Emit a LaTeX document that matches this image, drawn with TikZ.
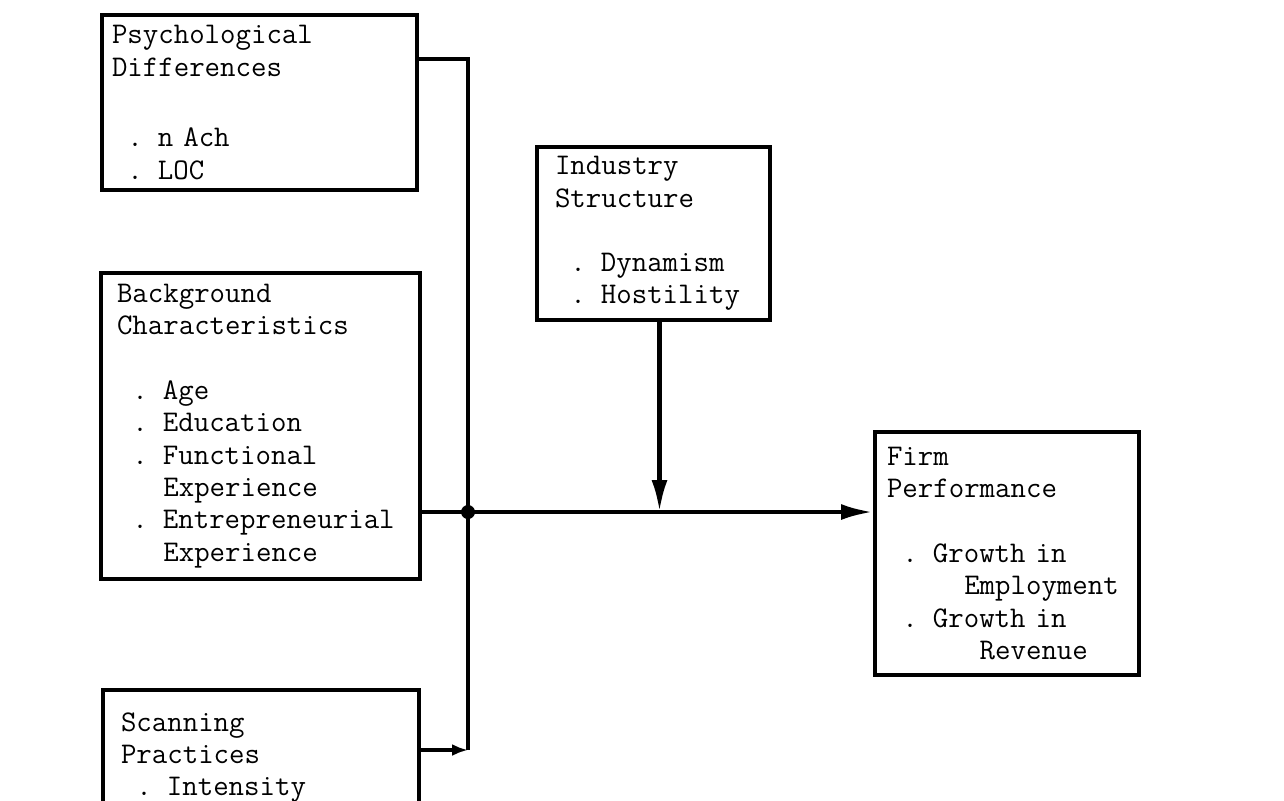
\documentclass[tikz,border=0pt]{standalone}
\usepackage{tikz}
\usetikzlibrary{arrows.meta,positioning}
\newcommand{\ind}[1]{\hspace*{#1\fontcharwd\font`x}}
\tikzset{
    %Define standard arrow tip
    >={Latex[length=16pt,width=8pt]},
    %Define style for boxes
    factor/.style={
           rectangle,
           draw=black, line width=2pt,
           inner xsep=9pt, inner ysep=0pt,
           anchor=north west,
           align=left,
           font=\fontsize{15pt}{16.2pt}\selectfont\ttfamily},
    % Define connector style
    link/.style={
           line width=2.2pt},
    pil/.style={
           ->,
           line width=2.2pt},
    smallpil/.style={
           -{Latex[length=8pt,width=6pt]},
           line width=2.2pt}
}
\begin{document}
\begin{tikzpicture}[x=0.5pt,y=-0.5pt]
\useasboundingbox (0,0) rectangle (1284,800);
\clip (0,0) rectangle (1284,800);
\node[factor, inner xsep=5pt, text width=147.5pt, minimum height=87.5pt] (psych) at (100,13)
  {Psychological\\Differences\\[19pt]\ind{1}. n Ach\\\ind{1}. LOC};
\node[factor, inner xsep=8pt, text width=143.5pt, minimum height=153pt] (back) at (99,271)
  {Background\\Characteristics\\[16pt]\ind{1}. Age\\\ind{1}. Education\\\ind{1}. Functional\\\ind{3}Experience\\\ind{1}. Entrepreneurial\\\ind{3}Experience};
\node[factor, text width=140pt, minimum height=67.5pt] (scan) at (101,688)
  {Scanning\\Practices\\\ind{1}. Intensity};
\node[factor, text width=98.5pt, minimum height=86.5pt] (ind) at (535,145)
  {Industry\\Structure\\[16pt]\ind{1}. Dynamism\\\ind{1}. Hostility};
\node[factor, text width=120pt, inner xsep=6pt, minimum height=121.5pt] (firm) at (873,430)
  {Firm\\Performance\\[16pt]\ind{1}. Growth in\\\ind{5}Employment\\\ind{1}. Growth in\\\ind{6}Revenue};
\coordinate (top) at (468,59);
\coordinate (j) at (468,512);
\coordinate (sb) at (468,750);
% joining lines
\draw[link] (psych.east |- top) -- (top) -- (sb);
\draw[pil] (back.east |- j) -- (firm.west |- j);
\draw[pil] ([xshift=3pt]ind.south) -- ([xshift=3pt]ind.south |- j);
\draw[smallpil] (scan.east |- sb) -- (sb);
\fill (j) circle (3.5pt);
\end{tikzpicture}
\end{document}
